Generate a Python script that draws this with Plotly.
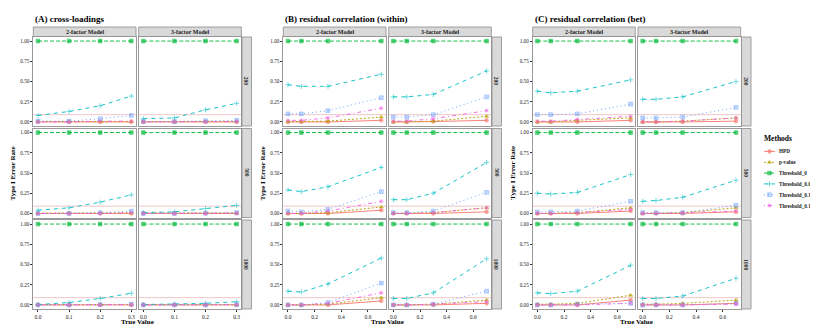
import plotly.graph_objects as go

W, H = 818, 330
OFF = 8  # page body margin offset
WF, HF = W - OFF, H - OFF
FONT = "Liberation Serif"

METHODS = ["HPD", "p-value", "Threshold_0", "Threshold_0.05", "Threshold_0.1", "Threshold_0.15"]
COLORS = ["#F8766D", "#B79F00", "#00BA38", "#00BFC4", "#619CFF", "#F564E3"]
SYMBOLS = ["circle", "triangle-up", "square", "cross-thin-open", "square-x-open", "asterisk-open"]
DASHES = ["solid", "2px,2px", "4px,2px", "4px,4px", "1px,3px", "1px,3px,4px,3px"]

PANEL_TITLES = ["(A) cross-loadings", "(B) residual correlation (within)", "(C) residual correlation (bet)"]
MODELS = ["2-factor Model", "3-factor Model"]
SIZES = ["200", "500", "1000"]

X_A = [0.0, 0.1, 0.2, 0.3]
X_BC = [0.0, 0.1, 0.3, 0.7]
X_TICKS_A = [0.0, 0.1, 0.2, 0.3]
X_TICK_LABELS_A = ["0.0", "0.1", "0.2", "0.3"]
X_TICKS_BC = [0.0, 0.2, 0.4, 0.6]
X_TICK_LABELS_BC = ["0.0", "0.2", "0.4", "0.6"]
Y_TICKS = [0.0, 0.25, 0.5, 0.75, 1.0]
Y_TICK_LABELS = ["0.00", "0.25", "0.50", "0.75", "1.00"]
REF_LINE = 0.09

# rows per facet: HPD, p-value, Threshold_0, Threshold_0.05, Threshold_0.1, Threshold_0.15
A_2F_200 = [[0, 0, 0, 0], [0.005, 0.005, 0.005, 0.005], [1, 1, 1, 1],
            [0.08, 0.13, 0.20, 0.32], [0.01, 0.01, 0.04, 0.08], [0.0, 0.0, 0.01, 0.01]]
A_3F_200 = [[0, 0, 0, 0], [0.005, 0.005, 0.005, 0.005], [1, 1, 1, 1],
            [0.04, 0.05, 0.15, 0.23], [0.005, 0.005, 0.015, 0.02], [0.0, 0.0, 0.0, 0.005]]
A_2F_500 = [[0, 0, 0, 0], [0.005, 0.005, 0.005, 0.005], [1, 1, 1, 1],
            [0.04, 0.07, 0.14, 0.23], [0.0, 0.0, 0.01, 0.03], [0.0, 0.0, 0.0, 0.01]]
A_3F_500 = [[0, 0, 0, 0], [0.005, 0.005, 0.005, 0.005], [1, 1, 1, 1],
            [0.01, 0.02, 0.06, 0.10], [0.0, 0.0, 0.005, 0.01], [0.0, 0.0, 0.0, 0.005]]
A_2F_1000 = [[0, 0, 0, 0], [0.005, 0.005, 0.005, 0.005], [1, 1, 1, 1],
             [0.005, 0.03, 0.08, 0.145], [0.0, 0.0, 0.005, 0.01], [0.0, 0.0, 0.0, 0.005]]
A_3F_1000 = [[0, 0, 0, 0], [0.005, 0.005, 0.005, 0.005], [1, 1, 1, 1],
             [0.005, 0.01, 0.02, 0.04], [0.0, 0.0, 0.0, 0.005], [0.0, 0.0, 0.0, 0.005]]

B_2F_200 = [[0, 0, 0, 0.02], [0.005, 0.005, 0.01, 0.06], [1, 1, 1, 1],
            [0.46, 0.44, 0.44, 0.59], [0.10, 0.10, 0.14, 0.30], [0.02, 0.02, 0.05, 0.17]]
B_3F_200 = [[0, 0, 0.005, 0.02], [0.0, 0.0, 0.01, 0.07], [1, 1, 1, 1],
            [0.31, 0.31, 0.34, 0.63], [0.06, 0.06, 0.09, 0.31], [0.01, 0.01, 0.04, 0.14]]
B_2F_500 = [[0, 0, 0, 0.04], [0.0, 0.0, 0.01, 0.08], [1, 1, 1, 1],
            [0.29, 0.27, 0.33, 0.57], [0.03, 0.02, 0.05, 0.27], [0.0, 0.0, 0.03, 0.15]]
B_3F_500 = [[0, 0, 0, 0.02], [0.0, 0.0, 0.01, 0.07], [1, 1, 1, 1],
            [0.17, 0.17, 0.25, 0.63], [0.01, 0.01, 0.03, 0.26], [0.0, 0.0, 0.01, 0.07]]
B_2F_1000 = [[0, 0, 0, 0.05], [0.0, 0.0, 0.01, 0.09], [1, 1, 1, 1],
             [0.17, 0.16, 0.26, 0.58], [0.0, 0.0, 0.03, 0.27], [0.0, 0.0, 0.02, 0.15]]
B_3F_1000 = [[0, 0, 0, 0.02], [0.0, 0.0, 0.01, 0.06], [1, 1, 1, 1],
             [0.08, 0.08, 0.15, 0.57], [0.0, 0.0, 0.01, 0.17], [0.0, 0.0, 0.01, 0.04]]

C_2F_200 = [[0, 0, 0, 0.02], [0.0, 0.0, 0.02, 0.05], [1, 1, 1, 1],
            [0.38, 0.36, 0.38, 0.52], [0.09, 0.09, 0.10, 0.22], [0.01, 0.01, 0.03, 0.07]]
C_3F_200 = [[0, 0, 0, 0.01], [0.0, 0.0, 0.01, 0.05], [1, 1, 1, 1],
            [0.28, 0.28, 0.31, 0.50], [0.05, 0.05, 0.06, 0.18], [0.0, 0.0, 0.01, 0.05]]
C_2F_500 = [[0, 0, 0, 0.03], [0.0, 0.0, 0.01, 0.07], [1, 1, 1, 1],
            [0.25, 0.24, 0.26, 0.48], [0.02, 0.02, 0.03, 0.15], [0.0, 0.0, 0.01, 0.05]]
C_3F_500 = [[0, 0, 0, 0.02], [0.0, 0.0, 0.01, 0.07], [1, 1, 1, 1],
            [0.15, 0.16, 0.20, 0.41], [0.01, 0.01, 0.01, 0.10], [0.0, 0.0, 0.01, 0.03]]
C_2F_1000 = [[0, 0, 0, 0.06], [0.01, 0.01, 0.02, 0.12], [1, 1, 1, 1],
             [0.15, 0.14, 0.17, 0.49], [0.0, 0.0, 0.01, 0.02], [0.0, 0.0, 0.0, 0.02]]
C_3F_1000 = [[0, 0, 0, 0.02], [0.01, 0.01, 0.02, 0.06], [1, 1, 1, 1],
             [0.08, 0.08, 0.11, 0.33], [0.0, 0.0, 0.0, 0.02], [0.0, 0.0, 0.0, 0.01]]

PANEL_DATA = [
    [[A_2F_200, A_3F_200], [A_2F_500, A_3F_500], [A_2F_1000, A_3F_1000]],
    [[B_2F_200, B_3F_200], [B_2F_500, B_3F_500], [B_2F_1000, B_3F_1000]],
    [[C_2F_200, C_3F_200], [C_2F_500, C_3F_500], [C_2F_1000, C_3F_1000]],
]
PANEL_X = [X_A, X_BC, X_BC]
PANEL_XTICKS = [(X_TICKS_A, X_TICK_LABELS_A), (X_TICKS_BC, X_TICK_LABELS_BC), (X_TICKS_BC, X_TICK_LABELS_BC)]
PANEL_XRANGE = [[-0.015, 0.315], [-0.035, 0.735], [-0.035, 0.735]]

# layout geometry in page pixels
COLS_PX = [[(33.3, 136.0), (138.7, 241.3)],
           [(283.3, 386.0), (388.7, 491.3)],
           [(532.7, 635.3), (638.0, 740.7)]]
RSTRIP_PX = [(242.0, 251.5), (492.0, 501.5), (741.5, 751.0)]
ROWS_PX = [(37.0, 126.0), (128.5, 217.5), (220.0, 309.0)]
TSTRIP_PX = (27.0, 36.5)

BORDER = "#9a9a9a"
STRIP_FILL = "#D9D9D9"
STRIP_LINE = "#8c8c8c"
TXT = "#1a1a1a"
MSIZE = 3.6

fig = go.Figure()
layout = dict(width=WF, height=HF, margin=dict(l=0, r=0, t=0, b=0),
              paper_bgcolor="white", plot_bgcolor="white", showlegend=False,
              font=dict(family=FONT, color=TXT))
shapes, annotations = [], []


def px_x(v):
    return (v - OFF) / WF


def px_y(v):
    return 1 - (v - OFF) / HF


k = 0
for p in range(3):
    for r in range(3):
        for c in range(2):
            k += 1
            xa = "x" if k == 1 else f"x{k}"
            ya = "y" if k == 1 else f"y{k}"
            xkey = "xaxis" if k == 1 else f"xaxis{k}"
            ykey = "yaxis" if k == 1 else f"yaxis{k}"
            x0, x1 = COLS_PX[p][c]
            y0, y1 = ROWS_PX[r]
            xt, xl = PANEL_XTICKS[p]
            bottom = r == 2
            left = c == 0
            layout[xkey] = dict(domain=[px_x(x0), px_x(x1)], anchor=ya, range=PANEL_XRANGE[p],
                                showgrid=False, zeroline=False, showline=True, mirror=True,
                                linecolor=BORDER, linewidth=0.8,
                                tickmode="array", tickvals=xt, ticktext=xl if bottom else [""] * len(xt),
                                ticks="outside" if bottom else "", ticklen=2, tickwidth=0.6,
                                tickcolor="#333", tickfont=dict(size=5.5, family=FONT, color=TXT),
                                showticklabels=bottom)
            layout[ykey] = dict(domain=[px_y(y1), px_y(y0)], anchor=xa, range=[-0.05, 1.05],
                                showgrid=False, zeroline=False, showline=True, mirror=True,
                                linecolor=BORDER, linewidth=0.8,
                                tickmode="array", tickvals=Y_TICKS, ticktext=Y_TICK_LABELS,
                                ticks="outside" if left else "", ticklen=2, tickwidth=0.6,
                                tickcolor="#333", tickfont=dict(size=5.2, family=FONT, color=TXT),
                                showticklabels=left)
            shapes.append(dict(type="line", xref=f"{xa} domain", yref=ya, x0=0, x1=1,
                               y0=REF_LINE, y1=REF_LINE, line=dict(color="#F0C8C8", width=1),
                               layer="below"))
            data = PANEL_DATA[p][r][c]
            xs = PANEL_X[p]
            for m in range(6):
                fig.add_trace(go.Scatter(x=xs, y=data[m], mode="lines", xaxis=xa, yaxis=ya,
                                         line=dict(color=COLORS[m], width=1.0, dash=DASHES[m]),
                                         opacity=0.9, hoverinfo="skip"))
            for m in range(6):
                fig.add_trace(go.Scatter(x=xs, y=data[m], mode="markers", xaxis=xa, yaxis=ya,
                                         marker=dict(color=COLORS[m], size=MSIZE, symbol=SYMBOLS[m],
                                                     line=dict(color=COLORS[m], width=0.8)),
                                         opacity=0.7, name=METHODS[m]))
            if r == 0:
                shapes.append(dict(type="rect", xref="paper", yref="paper",
                                   x0=px_x(x0), x1=px_x(x1), y0=px_y(TSTRIP_PX[1]), y1=px_y(TSTRIP_PX[0]),
                                   fillcolor=STRIP_FILL, line=dict(color=STRIP_LINE, width=0.8)))
                annotations.append(dict(xref="paper", yref="paper", x=px_x((x0 + x1) / 2),
                                        y=px_y(sum(TSTRIP_PX) / 2), text=f"<b>{MODELS[c]}</b>",
                                        showarrow=False, font=dict(size=6, family=FONT, color=TXT),
                                        xanchor="center", yanchor="middle"))
        sx0, sx1 = RSTRIP_PX[p]
        y0, y1 = ROWS_PX[r]
        shapes.append(dict(type="rect", xref="paper", yref="paper",
                           x0=px_x(sx0), x1=px_x(sx1), y0=px_y(y1), y1=px_y(y0),
                           fillcolor=STRIP_FILL, line=dict(color=STRIP_LINE, width=0.8)))
        annotations.append(dict(xref="paper", yref="paper", x=px_x((sx0 + sx1) / 2),
                                y=px_y((y0 + y1) / 2), text=f"<b>{SIZES[r]}</b>", textangle=90,
                                showarrow=False, font=dict(size=5.5, family=FONT, color=TXT),
                                xanchor="center", yanchor="middle"))
    annotations.append(dict(xref="paper", yref="paper", x=px_x(COLS_PX[p][0][0]), y=px_y(19),
                            text=f"<b>{PANEL_TITLES[p]}</b>", showarrow=False,
                            font=dict(size=9, family=FONT, color="black"),
                            xanchor="left", yanchor="middle"))
    annotations.append(dict(xref="paper", yref="paper", x=px_x(COLS_PX[p][0][0] - 20),
                            y=px_y((ROWS_PX[0][0] + ROWS_PX[2][1]) / 2),
                            text="<b>Type I Error Rate</b>", textangle=-90, showarrow=False,
                            font=dict(size=7, family=FONT, color="black"),
                            xanchor="center", yanchor="middle"))
    annotations.append(dict(xref="paper", yref="paper",
                            x=px_x((COLS_PX[p][0][0] + COLS_PX[p][1][1]) / 2), y=px_y(322),
                            text="<b>True Value</b>", showarrow=False,
                            font=dict(size=7, family=FONT, color="black"),
                            xanchor="center", yanchor="middle"))

# legend drawn on its own small axis
LEG_X0, LEG_X1 = 764.0, 775.0
LEG_Y0, LEG_Y1 = 146.0, 211.0
layout["xaxis19"] = dict(domain=[px_x(LEG_X0), px_x(LEG_X1)], anchor="y19", range=[0, 1],
                         visible=False, fixedrange=True)
layout["yaxis19"] = dict(domain=[px_y(LEG_Y1), px_y(LEG_Y0)], anchor="x19", range=[5.5, -0.5],
                         visible=False, fixedrange=True)
for m in range(6):
    fig.add_trace(go.Scatter(x=[0, 1], y=[m, m], mode="lines", xaxis="x19", yaxis="y19",
                             line=dict(color=COLORS[m], width=1.0, dash=DASHES[m]), opacity=0.9,
                             hoverinfo="skip"))
    fig.add_trace(go.Scatter(x=[0.5], y=[m], mode="markers", xaxis="x19", yaxis="y19",
                             marker=dict(color=COLORS[m], size=MSIZE, symbol=SYMBOLS[m],
                                         line=dict(color=COLORS[m], width=0.8)),
                             opacity=0.7, hoverinfo="skip"))
    annotations.append(dict(xref="x19", yref="y19", x=1, y=m, xshift=2,
                            text=f"<b>{METHODS[m]}</b>", showarrow=False,
                            font=dict(size=5.2, family=FONT, color=TXT),
                            xanchor="left", yanchor="middle"))
annotations.append(dict(xref="paper", yref="paper", x=px_x(762), y=px_y(139),
                        text="<b>Methods</b>", showarrow=False,
                        font=dict(size=7.5, family=FONT, color="black"),
                        xanchor="left", yanchor="middle"))

layout["shapes"] = shapes
layout["annotations"] = annotations
fig.update_layout(**layout)
fig.write_html("out.html")
